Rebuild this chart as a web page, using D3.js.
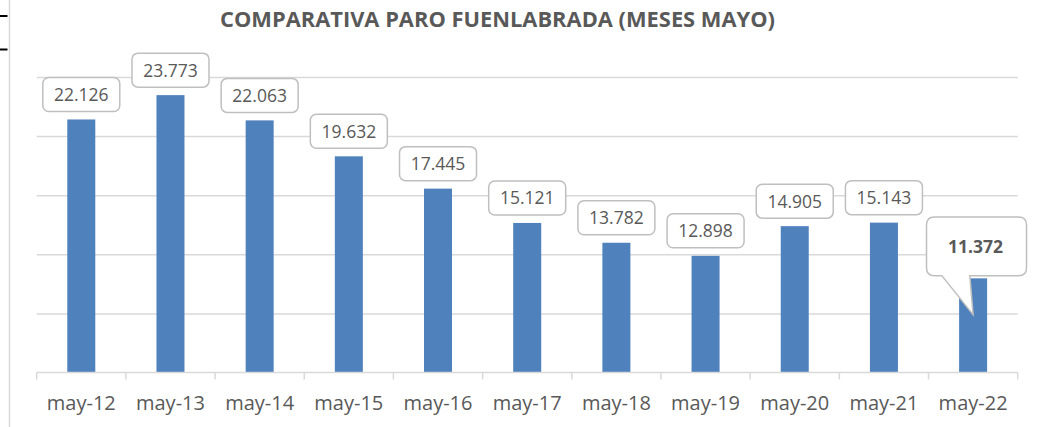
<!DOCTYPE html>
<html>
<head>
<meta charset="utf-8">
<script src="https://cdn.jsdelivr.net/npm/d3@7"></script>
<style>
  body { margin: 0; background: #fff; }
  svg { display: block; }
</style>
</head>
<body>
<script>
var months = ["may-12", "may-13", "may-14", "may-15", "may-16", "may-17", "may-18", "may-19", "may-20", "may-21", "may-22"];
var paro = [22126, 23773, 22063, 19632, 17445, 15121, 13782, 12898, 14905, 15143, 11372];
var gridValues = [5000, 9000, 13000, 17000, 21000, 25000];
var title = "COMPARATIVA PARO FUENLABRADA (MESES MAYO)";

var W = 1043, H = 427;
var svg = d3.select("body").append("svg").attr("width", W).attr("height", H);
var fmt = function (v) { return d3.format(",")(v).replace(/,/g, "."); };

var x = d3.scaleBand().domain(months).range([36.7, 1017.7])
    .paddingInner(0.686).paddingOuter(0.343);
var y = d3.scaleLinear().domain([5000, 25000]).range([372.5, 77]);

// frame leftovers
svg.append("line").attr("x1", 9.5).attr("x2", 9.5).attr("y1", 0).attr("y2", H)
    .attr("stroke", "#d9d9d9").attr("stroke-width", 1.5);
[16, 49.5].forEach(function (yy) {
    svg.append("line").attr("x1", 0).attr("x2", 7.5).attr("y1", yy).attr("y2", yy)
        .attr("stroke", "#000").attr("stroke-width", 2);
});

svg.append("text").attr("x", 497.5).attr("y", 27)
    .attr("text-anchor", "middle")
    .attr("textLength", 555).attr("lengthAdjust", "spacingAndGlyphs")
    .style("font-family", "'Open Sans', sans-serif").style("font-weight", "bold")
    .style("font-size", "21.5px").style("fill", "#595959")
    .text(title);

// gridlines
svg.append("g").attr("class", "grid")
    .attr("transform", "translate(36.7,0)")
    .call(d3.axisLeft(y).tickValues(gridValues.slice(1)).tickSize(-981).tickFormat(""))
    .call(function (g) {
        g.select(".domain").remove();
        g.selectAll("line").attr("stroke", "#d9d9d9").attr("stroke-width", 1.5);
    });

// bars
svg.append("g").selectAll("rect").data(paro).enter().append("rect")
    .attr("x", function (d, i) { return x(months[i]); })
    .attr("width", x.bandwidth())
    .attr("y", function (d) { return y(d); })
    .attr("height", function (d) { return y(5000) - y(d); })
    .attr("fill", "#4f81bd");

// x axis
var xAxis = svg.append("g").attr("transform", "translate(0,372.5)")
    .call(d3.axisBottom(x).tickSize(0).tickPadding(0))
    .call(function (g) {
        g.select(".domain").attr("stroke", "#d9d9d9").attr("stroke-width", 1.5)
            .attr("d", "M36.7,0H1017.7");
        g.selectAll("text").attr("dy", 0).attr("y", 37)
            .style("font-family", "'Open Sans', sans-serif").style("font-size", "20px")
            .style("fill", "#595959");
    });
// ticks sit between categories
var bounds = d3.range(months.length + 1).map(function (i) { return 36.7 + i * x.step(); });
xAxis.selectAll(".bound").data(bounds).enter().append("line")
    .attr("x1", function (d) { return d; }).attr("x2", function (d) { return d; })
    .attr("y1", 0).attr("y2", 7)
    .attr("stroke", "#d9d9d9").attr("stroke-width", 1.5);

// data labels
var last = paro.length - 1;
var labels = svg.append("g");
paro.forEach(function (v, i) {
    var cx = x(months[i]) + x.bandwidth() / 2;
    var top = y(v);
    if (i < last) {
        var bw = 77, bh = 34;
        var by = top - 8 - bh;
        labels.append("rect").attr("x", cx - bw / 2).attr("y", by)
            .attr("width", bw).attr("height", bh).attr("rx", 6)
            .attr("fill", "#fff").attr("stroke", "#bfbfbf").attr("stroke-width", 1.5);
        labels.append("text").attr("x", cx).attr("y", by + bh / 2 + 6.5)
            .attr("text-anchor", "middle")
            .style("font-family", "'Open Sans', sans-serif").style("font-size", "17.5px")
            .style("fill", "#595959").text(fmt(v));
    } else {
        // callout for the last month
        var bx0 = cx - 46.6, bx1 = cx + 53.4, by0 = top - 61.4, by1 = top - 2.7, r = 8;
        var tipY = top + 36.3;
        var p = d3.path();
        p.moveTo(bx0 + r, by0);
        p.lineTo(bx1 - r, by0);
        p.quadraticCurveTo(bx1, by0, bx1, by0 + r);
        p.lineTo(bx1, by1 - r);
        p.quadraticCurveTo(bx1, by1, bx1 - r, by1);
        p.lineTo(cx - 3.3, by1);
        p.lineTo(cx, tipY);
        p.lineTo(cx - 31.3, by1);
        p.lineTo(bx0 + r, by1);
        p.quadraticCurveTo(bx0, by1, bx0, by1 - r);
        p.lineTo(bx0, by0 + r);
        p.quadraticCurveTo(bx0, by0, bx0 + r, by0);
        p.closePath();
        labels.append("path").attr("d", p.toString())
            .attr("fill", "#fff").attr("stroke", "#bfbfbf").attr("stroke-width", 1.5);
        labels.append("text").attr("x", cx + 2.3).attr("y", (by0 + by1) / 2 + 6.6)
            .attr("text-anchor", "middle")
            .style("font-family", "'Open Sans', sans-serif").style("font-size", "17.5px")
            .style("font-weight", "bold").style("fill", "#595959").text(fmt(v));
    }
});
</script>
</body>
</html>
